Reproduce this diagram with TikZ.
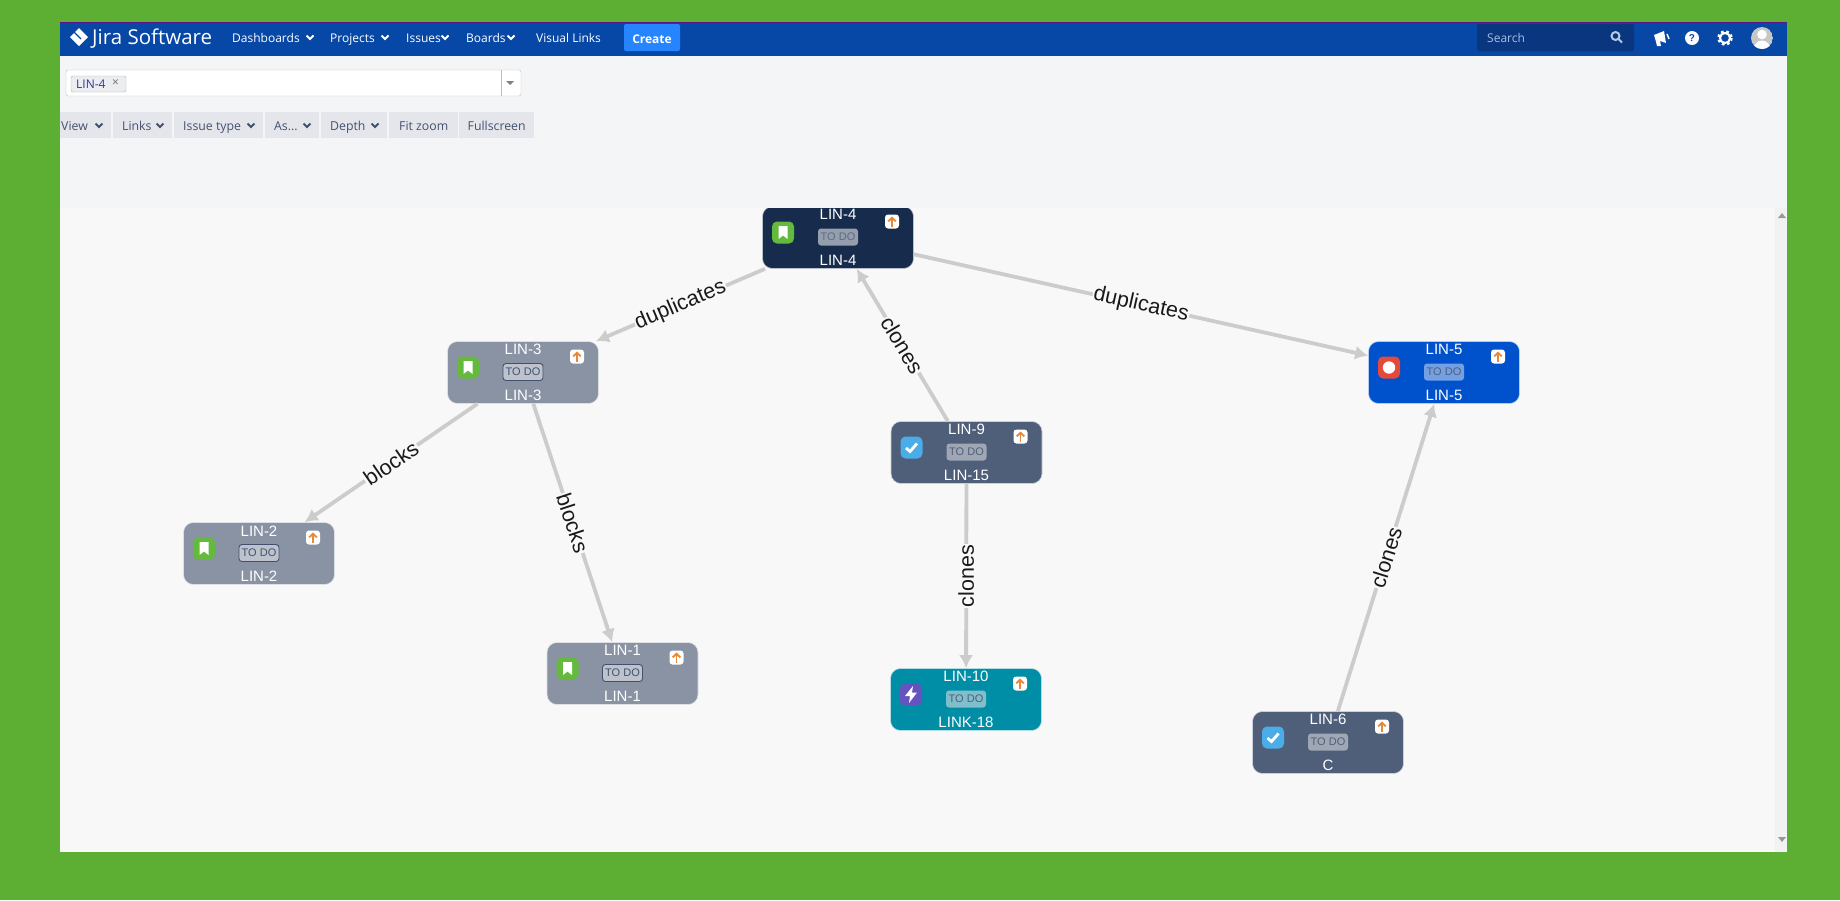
\documentclass[tikz,border=0pt]{standalone}
\usepackage{fontspec}
\setmainfont{Liberation Sans}
\newfontfamily\uifont{Open Sans}
\usetikzlibrary{arrows.meta}

\definecolor{framegreen}{HTML}{5DAF34}
\definecolor{headerblue}{HTML}{0747A6}
\definecolor{searchblue}{HTML}{09367F}
\definecolor{createblue}{HTML}{2684FF}
\definecolor{panelgray}{HTML}{F4F5F7}
\definecolor{canvasgray}{HTML}{F8F8F8}
\definecolor{buttongray}{HTML}{E4E6EB}
\definecolor{uitext}{HTML}{42526E}
\definecolor{linkgray}{HTML}{CCCCCC}
\definecolor{prioorange}{HTML}{E8893A}
\definecolor{cardnavy}{HTML}{172B4D}
\definecolor{cardgray}{HTML}{8993A4}
\definecolor{cardblue}{HTML}{0052CC}
\definecolor{cardslate}{HTML}{505F79}
\definecolor{cardteal}{HTML}{008DA6}
\definecolor{storygreen}{HTML}{63BA3C}
\definecolor{taskblue}{HTML}{4BADE8}
\definecolor{epicpurple}{HTML}{6554C0}
\definecolor{bugred}{HTML}{E5493A}

\tikzset{
    card/.style={draw=white!70!#1, fill=#1, line width=0.6pt, rounded corners=10pt, minimum width=151pt, minimum height=62pt, inner sep=0pt},
    cardtext/.style={text=white, font=\fontsize{15}{15}\selectfont, inner sep=0pt},
    pill/.style={rounded corners=3pt, minimum width=40pt, minimum height=17pt, inner sep=0pt, font=\fontsize{11}{11}\selectfont},
    pillgray/.style={pill, fill=white!65!uitext, draw=uitext, line width=0.9pt, text=uitext},
    pillnavy/.style={pill, fill=cardnavy!45!white!85!cardgray, text=cardnavy!70!white},
    pillslate/.style={pill, fill=cardslate!55!white, text=cardslate},
    pillblue/.style={pill, fill=cardblue!55!white, text=cardslate},
    pillteal/.style={pill, fill=cardteal!50!white!85!cardgray, text=cardslate},
    link/.style={draw=linkgray, line width=3.8pt, -{Latex[length=13pt,width=14pt]}},
    edgelabel/.style={fill=canvasgray, text=black!90, inner sep=1pt, font=\fontsize{21.5}{21.5}\selectfont},
    navitem/.style={anchor=west, text=white, inner sep=0pt, text height=9pt, text depth=3pt, font=\uifont\fontsize{12}{12}\selectfont},
    toolbutton/.style={fill=buttongray, text=uitext, minimum height=26pt, inner sep=0pt, text height=13pt, text depth=3pt, anchor=west, font=\uifont\fontsize{12.3}{12.3}\selectfont},
    tooltext/.style={anchor=west, text=uitext, inner sep=0pt, text height=9pt, text depth=3pt, font=\uifont\fontsize{12.3}{12.3}\selectfont},
    navchevron/.pic={\draw[white, line width=1.8pt] (-3.5,-1.5) -- (0,2) -- (3.5,-1.5);},
    toolchevron/.pic={\draw[uitext, line width=1.8pt] (-3.5,-1.5) -- (0,2) -- (3.5,-1.5);},
    storyicon/.pic={
        \fill[storygreen, rounded corners=5pt] (-11,-11) rectangle (11,11);
        \fill[white] (-4.5,-6.5) -- (4.5,-6.5) -- (4.5,6.5) -- (0,3) -- (-4.5,6.5) -- cycle;
    },
    taskicon/.pic={
        \fill[taskblue, rounded corners=5pt] (-11,-11) rectangle (11,11);
        \draw[white, line width=2.8pt] (-5.5,0.5) -- (-1.5,4) -- (5.5,-4);
    },
    epicicon/.pic={
        \fill[epicpurple, rounded corners=5pt] (-11,-11) rectangle (11,11);
        \fill[white] (2,-8.5) -- (-6,1.5) -- (-1,1.5) -- (-2,8.5) -- (6,-2) -- (1,-2) -- cycle;
    },
    bugicon/.pic={
        \fill[bugred, rounded corners=5pt] (-11,-11) rectangle (11,11);
        \fill[white] (0,0) circle (6.2);
    },
    prioicon/.pic={
        \fill[white, rounded corners=3pt] (-7,-7) rectangle (7,7);
        \draw[prioorange, line width=1.9pt, -{Straight Barb[length=3.5pt,width=7.5pt]}] (0,5) -- (0,-5);
    },
}

\newcommand{\issuecard}[7]{
    \node[card=#6] (#1) at #2 {};
    \node[cardtext] (#1top) at ([yshift=22.7pt]#1.center) {#4};
    \node[#7] (#1pill) at ([yshift=0.5pt]#1.center) {TO DO};
    \node[cardtext] (#1bottom) at ([yshift=-22.7pt]#1.center) {#5};
    \coordinate (#1icon) at ([xshift=-55pt,yshift=5pt]#1.center);
    \coordinate (#1prio) at ([xshift=54pt,yshift=16pt]#1.center);
    \pic at (#1icon) {#3};
    \pic at (#1prio) {prioicon};
}

\begin{document}
\begin{tikzpicture}[x=1pt,y=-1pt]
    \fill[framegreen] (0,0) rectangle (1840,900);
    \useasboundingbox (0,0) rectangle (1840,900);
    \fill[canvasgray] (60,208) rectangle (1787,852);
    \fill[black!5] (1775,208) rectangle (1787,852);
    \fill[black!40] (1782,213) -- (1786,218) -- (1778,218) -- cycle;
    \fill[black!40] (1782,842) -- (1786,837) -- (1778,837) -- cycle;

    \issuecard{lin4}{(838,237.5)}{storyicon}{LIN-4}{LIN-4}{cardnavy}{pillnavy}
    \issuecard{lin3}{(523,372.5)}{storyicon}{LIN-3}{LIN-3}{cardgray}{pillgray}
    \issuecard{lin5}{(1444,372.5)}{bugicon}{LIN-5}{LIN-5}{cardblue}{pillblue}
    \issuecard{lin9}{(966.5,452.5)}{taskicon}{LIN-9}{LIN-15}{cardslate}{pillslate}
    \issuecard{lin2}{(259,553.5)}{storyicon}{LIN-2}{LIN-2}{cardgray}{pillgray}
    \issuecard{lin1}{(622.5,673.5)}{storyicon}{LIN-1}{LIN-1}{cardgray}{pillgray}
    \issuecard{lin10}{(966,699.5)}{epicicon}{LIN-10}{LINK-18}{cardteal}{pillteal}
    \issuecard{lin6}{(1328,742.5)}{taskicon}{LIN-6}{C}{cardslate}{pillslate}

    \draw[link] (lin4) -- node[edgelabel, sloped] {duplicates} (lin3);
    \draw[link] (lin4) -- node[edgelabel, sloped] {duplicates} (lin5);
    \draw[link] (lin9) -- node[edgelabel, sloped] {clones} (lin4);
    \draw[link] (lin3) -- node[edgelabel, sloped] {blocks} (lin2);
    \draw[link] (lin3) -- node[edgelabel, sloped] {blocks} (lin1);
    \draw[link] (lin9) -- node[edgelabel, rotate=90] {clones} (lin10);
    \draw[link] (lin6) -- node[edgelabel, sloped] {clones} (lin5);

    \fill[panelgray] (60,56) rectangle (1787,208);
    \fill[headerblue] (60,22) rectangle (1787,56);
    \draw[violet!70!headerblue, line width=1pt] (60,22.5) -- (1787,22.5);

    \fill[white] (79,28) -- (88,37) -- (79,46) -- (70,37) -- cycle;
    \draw[headerblue, line width=1.2pt] (74,32) -- (81,39);
    \node[navitem, text height=15pt, text depth=5pt, font=\uifont\fontsize{20.5}{20.5}\selectfont] (logotext) at (92,39) {Jira Software};
    \node[navitem] (navdashboards) at (232,39) {Dashboards};
    \pic at (310,37) {navchevron};
    \node[navitem] (navprojects) at (330,39) {Projects};
    \pic at (385,37) {navchevron};
    \node[navitem] (navissues) at (406,39) {Issues};
    \pic at (445,37) {navchevron};
    \node[navitem] (navboards) at (466,39) {Boards};
    \pic at (511,37) {navchevron};
    \node[navitem] (navvisual) at (536,39) {Visual Links};
    \node[fill=createblue, text=white, rounded corners=2pt, minimum width=56pt, minimum height=27pt, inner sep=0pt, text height=11pt, text depth=0pt, font=\uifont\bfseries\fontsize{12}{12}\selectfont] (create) at (652,37.5) {Create};

    \fill[searchblue, rounded corners=2pt] (1477,24) rectangle (1634,51);
    \node[navitem, text=white!65!headerblue] (searchtext) at (1487,39) {Search};
    \draw[white!70!headerblue, line width=2pt] (1615.5,36) circle (4) (1618.5,39) -- (1622,42.5);
    \fill[white] (1654,35) -- (1664,31) -- (1666,43) -- (1660,41) -- (1661,46) -- (1657,46) -- (1655.5,40) -- cycle;
    \draw[white, line width=1.4pt] (1667,34) -- (1669,39);
    \fill[white] (1692,38) circle (7);
    \node[text=headerblue, inner sep=0pt, font=\bfseries\fontsize{10}{10}\selectfont] (helpmark) at (1692,38) {?};
    \draw[white, line width=2pt] (1725,38) circle (5);
    \draw[white, line width=2.6pt, dash pattern=on 2.6pt off 2.6pt] (1725,38) circle (6.4);
    \begin{scope}
        \clip (1762,38) circle (11);
        \fill[black!22] (1762,38) circle (11);
        \fill[white] (1762,34.5) circle (4.8);
        \fill[white] (1762,50) ellipse (8.5 and 9.5);
    \end{scope}

    \draw[black!25, fill=white, rounded corners=2pt] (66,70) rectangle (521,96);
    \draw[black!25] (501,70) -- (501,96);
    \fill[black!50] (506,81) -- (514,81) -- (510,85) -- cycle;
    \draw[black!30, fill=buttongray!70!white, rounded corners=2pt] (71,76) rectangle (126,92);
    \node[anchor=west, text=blue!30!uitext, inner sep=0pt, font=\uifont\fontsize{12}{12}\selectfont] (tagtext) at (76,84.5) {LIN-4};
    \node[anchor=west, text=black!55, inner sep=0pt, font=\uifont\fontsize{12}{12}\selectfont] (tagclose) at (112,83.5) {×};

    \node[toolbutton, minimum width=51pt] (viewbtn) at (60,125) {};
    \node[tooltext] (viewtext) at (61,127) {View};
    \pic at (99,125) {toolchevron};
    \node[toolbutton, minimum width=59pt] (linksbtn) at (113,125) {};
    \node[tooltext] (linkstext) at (122,127) {Links};
    \pic at (160,125) {toolchevron};
    \node[toolbutton, minimum width=89pt] (typebtn) at (174,125) {};
    \node[tooltext] (typetext) at (183,127) {Issue type};
    \pic at (251,125) {toolchevron};
    \node[toolbutton, minimum width=54pt] (asbtn) at (265,125) {};
    \node[tooltext] (astext) at (274,127) {As...};
    \pic at (307,125) {toolchevron};
    \node[toolbutton, minimum width=66pt] (depthbtn) at (321,125) {};
    \node[tooltext] (depthtext) at (330,127) {Depth};
    \pic at (375,125) {toolchevron};
    \node[toolbutton, minimum width=69pt] (fitbtn) at (389,125) {Fit zoom};
    \node[toolbutton, minimum width=75pt] (fullbtn) at (459,125) {Fullscreen};
\end{tikzpicture}
\end{document}
